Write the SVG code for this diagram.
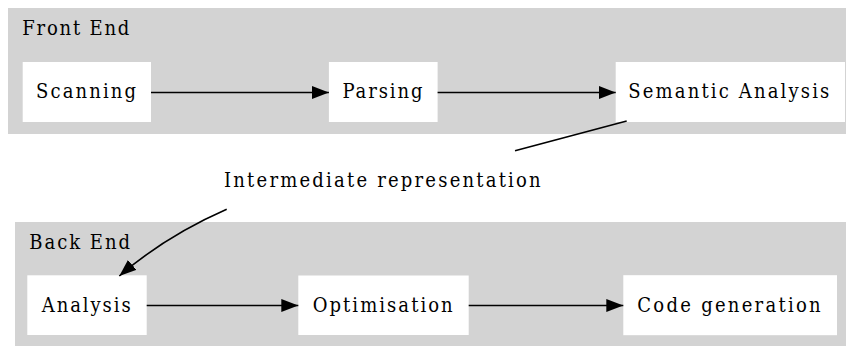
<svg xmlns="http://www.w3.org/2000/svg" width="846" height="347" viewBox="0 0 846 347">
<style>
  .cluster { fill: #d3d3d3; stroke: none; }
  .box { fill: #ffffff; stroke: none; }
  .lbl { font-family: "DejaVu Serif Condensed", "DejaVu Serif", serif; font-stretch: condensed; font-size: 20px; fill: #000000; }
  .edge { fill: none; stroke: #000000; stroke-width: 1.6; }
</style>
<defs>
  <marker id="arr" markerUnits="userSpaceOnUse" markerWidth="18" markerHeight="14" refX="17" refY="7" orient="auto" viewBox="0 0 18 14">
    <path d="M0,0.5 L17,7 L0,13.5 Z" fill="#000000"/>
  </marker>
</defs>
<g id="cluster-front">
  <rect class="cluster" x="8" y="8" width="842" height="126"/>
  <text class="lbl" x="22.3" y="34.7" textLength="107" lengthAdjust="spacing">Front End</text>
</g>
<g id="cluster-back">
  <rect class="cluster" x="15" y="222" width="835" height="124"/>
  <text class="lbl" x="29.3" y="249.3" textLength="100.7" lengthAdjust="spacing">Back End</text>
</g>
<g id="node-scanning">
  <rect class="box" x="22.7" y="62" width="128.3" height="60"/>
  <text class="lbl" x="36" y="98.3" textLength="100" lengthAdjust="spacing">Scanning</text>
</g>
<g id="node-parsing">
  <rect class="box" x="328.9" y="62" width="108.7" height="60"/>
  <text class="lbl" x="342.5" y="98.3" textLength="80" lengthAdjust="spacing">Parsing</text>
</g>
<g id="node-semantic">
  <rect class="box" x="615.7" y="62" width="229.3" height="60"/>
  <text class="lbl" x="628.3" y="98.3" textLength="201" lengthAdjust="spacing">Semantic Analysis</text>
</g>
<g id="node-ir">
  <text class="lbl" x="224" y="186.7" textLength="316.7" lengthAdjust="spacing">Intermediate representation</text>
</g>
<g id="node-analysis">
  <rect class="box" x="27.3" y="275.3" width="119.4" height="59.7"/>
  <text class="lbl" x="41.7" y="311.7" textLength="89" lengthAdjust="spacing">Analysis</text>
</g>
<g id="node-optimisation">
  <rect class="box" x="298.3" y="275.5" width="170.4" height="59.5"/>
  <text class="lbl" x="312.7" y="311.7" textLength="140" lengthAdjust="spacing">Optimisation</text>
</g>
<g id="node-codegen">
  <rect class="box" x="623.3" y="275.2" width="213.7" height="60"/>
  <text class="lbl" x="637.3" y="311.7" textLength="183.4" lengthAdjust="spacing">Code generation</text>
</g>
<g id="connectors">
  <line class="edge" x1="151" y1="92.5" x2="328.9" y2="92.5" marker-end="url(#arr)"/>
  <line class="edge" x1="437.6" y1="92.5" x2="615.7" y2="92.5" marker-end="url(#arr)"/>
  <line class="edge" x1="626.7" y1="121" x2="515" y2="150.7"/>
  <path class="edge" d="M226.7,209.3 C200,221 160,241 119.3,276" marker-end="url(#arr)"/>
  <line class="edge" x1="146.7" y1="305.5" x2="298.3" y2="305.5" marker-end="url(#arr)"/>
  <line class="edge" x1="468.7" y1="305.5" x2="623.3" y2="305.5" marker-end="url(#arr)"/>
</g>
</svg>
